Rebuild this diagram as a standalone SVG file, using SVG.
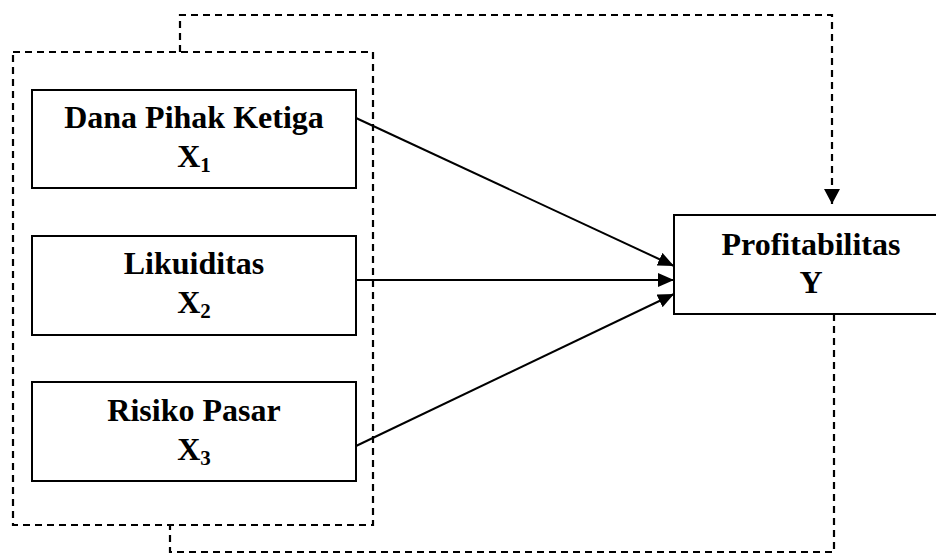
<svg xmlns="http://www.w3.org/2000/svg" width="936" height="553" viewBox="0 0 936 553">
<style>
.box{fill:#fff;stroke:#000;stroke-width:2}
.dash{fill:none;stroke:#000;stroke-width:2.2;stroke-dasharray:7 5}
.line{fill:none;stroke:#000;stroke-width:2}
.t{font-family:"Liberation Serif","Times New Roman",serif;font-weight:bold;font-size:32px;text-anchor:middle;fill:#000}
.sub{font-size:21px}
</style>
<defs>
<marker id="arr" viewBox="0 0 16 14" refX="16" refY="7" markerWidth="16" markerHeight="14" markerUnits="userSpaceOnUse" orient="auto">
<path d="M0,0 L16,7 L0,14 Z" fill="#000"/>
</marker>
<marker id="arr2" viewBox="0 0 15 16" refX="15" refY="8" markerWidth="15" markerHeight="16" markerUnits="userSpaceOnUse" orient="auto">
<path d="M0,0 L15,8 L0,16 Z" fill="#000"/>
</marker>
</defs>
<rect width="936" height="553" fill="#fff"/>
<g id="moderator-frame">
<rect class="dash" x="13" y="52" width="360" height="473"/>
</g>
<g id="connectors">
<line class="line" x1="356" y1="118" x2="674" y2="266" marker-end="url(#arr)"/>
<line class="line" x1="356" y1="280" x2="674" y2="280" marker-end="url(#arr)"/>
<line class="line" x1="356" y1="446" x2="674" y2="294" marker-end="url(#arr)"/>
<polyline class="dash" points="180,52 180,15 832,15 832,204" marker-end="url(#arr2)"/>
<polyline class="dash" points="834,314 834,552 170,552 170,525"/>
</g>
<g id="x1">
<rect class="box" x="32" y="90" width="324" height="98"/>
<text class="t" x="194" y="128">Dana Pihak Ketiga</text>
<text class="t" x="194" y="167">X<tspan class="sub" dy="5">1</tspan></text>
</g>
<g id="x2">
<rect class="box" x="32" y="236" width="324" height="99"/>
<text class="t" x="194" y="274">Likuiditas</text>
<text class="t" x="194" y="313">X<tspan class="sub" dy="5">2</tspan></text>
</g>
<g id="x3">
<rect class="box" x="32" y="382" width="324" height="99"/>
<text class="t" x="194" y="421">Risiko Pasar</text>
<text class="t" x="194" y="460">X<tspan class="sub" dy="5">3</tspan></text>
</g>
<g id="y">
<rect class="box" x="674" y="215" width="276" height="99"/>
<text class="t" x="811" y="255">Profitabilitas</text>
<text class="t" x="811" y="293">Y</text>
</g>
</svg>
